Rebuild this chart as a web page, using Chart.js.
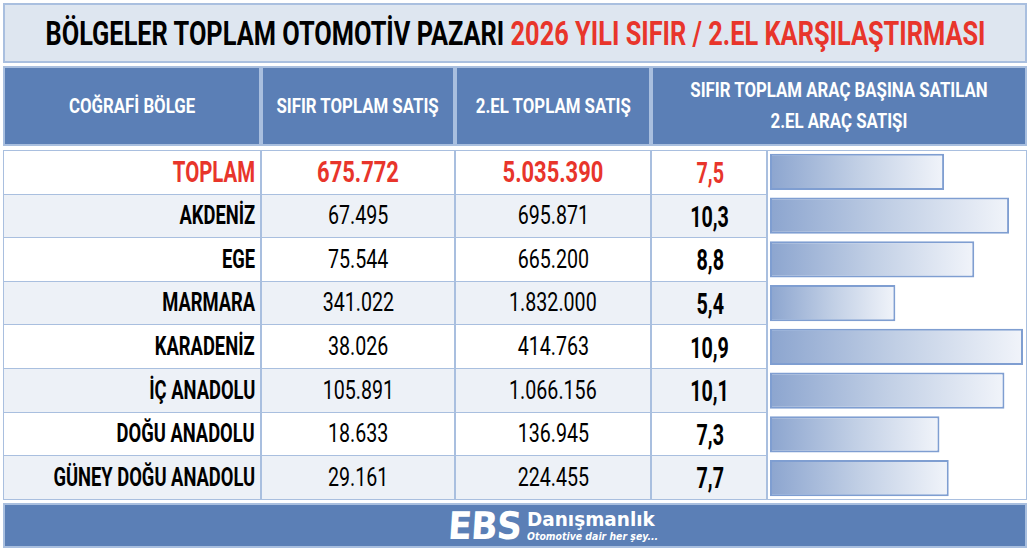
<!DOCTYPE html>
<html>
<head>
<meta charset="utf-8">
<script src="https://cdn.jsdelivr.net/npm/chart.js@4"></script>
<style>
  html,body{margin:0;padding:0;background:#fff;}
  body{width:1030px;height:553px;position:relative;overflow:hidden;
    font-family:Roboto,"Liberation Sans",sans-serif;}
  .box{position:absolute;box-sizing:border-box;display:flex;align-items:center;}
  .t{display:inline-block;white-space:nowrap;line-height:1;}
</style>
</head>
<body>
<div id="root"></div>
<div id="chartWrap" style="position:absolute;left:768px;top:150px;width:258px;height:350px;">
  <canvas id="c"></canvas>
</div>
<script>
// ---- DATA ----
const titleBlack = "BÖLGELER TOPLAM OTOMOTİV PAZARI";
const titleRed = "2026 YILI SIFIR / 2.EL KARŞILAŞTIRMASI";
const headers = ["COĞRAFİ BÖLGE", "SIFIR TOPLAM SATIŞ", "2.EL TOPLAM SATIŞ", "SIFIR TOPLAM ARAÇ BAŞINA SATILAN\n2.EL ARAÇ SATIŞI"];
const regions = ["TOPLAM", "AKDENİZ", "EGE", "MARMARA", "KARADENİZ", "İÇ ANADOLU", "DOĞU ANADOLU", "GÜNEY DOĞU ANADOLU"];
const newSales = [675772, 67495, 75544, 341022, 38026, 105891, 18633, 29161];
const usedSales = [5035390, 695871, 665200, 1832000, 414763, 1066156, 136945, 224455];
const usedPerNew = [7.5, 10.3, 8.8, 5.4, 10.9, 10.1, 7.3, 7.7];
const footerBrand = "EBS";
const footerName = "Danışmanlık";
const footerSlogan = "Otomotive dair her şey...";

// ---- LAYOUT ----
const root = document.getElementById('root');
const BORDER = '#a9bfdf', BLUE = '#5b7fb6', RED = '#e8352b', ROWALT = '#edf1f7';
const colX = [3, 261, 455, 651, 767, 1027];
const bodyTop = 150, rowH = 43.6;
function fmt(n){ return String(n).replace(/\B(?=(\d{3})+(?!\d))/g, '.'); }
function box(x, y, w, h, bg, border){
  const d = document.createElement('div');
  d.className = 'box';
  Object.assign(d.style, {left:x+'px', top:y+'px', width:w+'px', height:h+'px', background:bg||'transparent',
    border: border ? border : 'none'});
  root.appendChild(d); return d;
}
function text(parent, str, o){
  const s = document.createElement('span');
  s.className = 't';
  s.textContent = str;
  Object.assign(s.style, {fontSize:o.size+'px', fontWeight:o.bold?'700':'400', color:o.color||'#000',
    transform:'scaleX('+(o.sx||1)+')', transformOrigin:o.origin||'center', fontStyle:o.italic?'italic':'normal'});
  parent.appendChild(s); return s;
}
// title
const tb = box(3, 3, 1024, 60, '#dee6f0', '2px solid '+BORDER);
tb.style.justifyContent = 'center';
const tspan = document.createElement('span');
tspan.className='t';
tspan.style.fontSize='33px'; tspan.style.fontWeight='700';
tspan.innerHTML = '<span style="color:#000">'+titleBlack+'</span> <span style="color:'+RED+'">'+titleRed+'</span>';
tb.appendChild(tspan);
// header
for(let i=0;i<4;i++){
  const x0 = colX[i], x1 = i===3 ? colX[5] : colX[i+1];
  const h = box(x0, 66, x1-x0, 80, BLUE, '2px solid '+BORDER);
  h.style.justifyContent='center'; h.style.textAlign='center';
  const lines = headers[i].split('\n');
  const s = text(h, '', {size:20, bold:true, color:'#fff', sx:0.84});
  s.innerHTML = lines.join('<br>');
  s.style.lineHeight = '31px';
}
// body cells
for(let r=0;r<regions.length;r++){
  const y = bodyTop + r*rowH;
  const bg = r%2===1 ? ROWALT : '#fff';
  const isTotal = r===0;
  const color = isTotal ? RED : '#000';
  const vals = [regions[r], fmt(newSales[r]), fmt(usedSales[r]), usedPerNew[r].toFixed(1).replace('.', ',')];
  for(let c=0;c<4;c++){
    const b = box(colX[c], y, colX[c+1]-colX[c], rowH+1, bg, '1.5px solid '+BORDER);
    b.style.justifyContent = c===0 ? 'flex-end' : 'center';
    if(c===0) b.style.paddingRight='5px';
    if(c===3) b.style.paddingLeft='2px';
    const bold = isTotal || c===0 || c===3;
    let size, sx;
    if(c===0){ size = isTotal ? 30 : 25.5; sx = isTotal ? 0.68 : 0.72; }
    else if(c===3){ size = 29; sx = 0.68; }
    else { size = isTotal ? 30 : 25.5; sx = isTotal ? 0.73 : 0.77; }
    const s = text(b, vals[c], {size, bold, color, sx, origin: c===0 ? 'right' : 'center'});
    if(c===3) s.style.marginTop = '3px';
  }
}
// bar column cell
box(colX[4], bodyTop, colX[5]-colX[4], rowH*8+1, '#fff', '1.5px solid '+BORDER);
// footer
const fb = box(3, 503, 1024, 45, BLUE, '2px solid '+BORDER);
fb.style.justifyContent='center';
fb.innerHTML = '<div style="display:flex;align-items:center;margin-left:96px;">'+
  '<span class="t" style="font-family:\'DejaVu Sans\';font-weight:700;font-size:38px;color:#fff;transform:scaleX(0.92) skewX(-4deg);letter-spacing:-1px;">'+footerBrand+'</span>'+
  '<div style="display:flex;flex-direction:column;margin-left:3px;">'+
  '<span class="t" style="font-family:\'DejaVu Sans\';font-weight:700;font-size:19px;color:#fff;transform:scaleX(0.97);transform-origin:left;">'+footerName+'</span>'+
  '<span class="t" style="font-family:\'DejaVu Sans\';font-weight:700;font-style:italic;font-size:11px;color:#fff;margin-top:2px;transform:scaleX(0.85);transform-origin:left;">'+footerSlogan+'</span>'+
  '</div></div>';

// fit title width
const tw = tspan.getBoundingClientRect().width;
tspan.style.transform = 'scaleX('+(940/tw)+')';

// ---- CHART ----
const ctxEl = document.getElementById('c');
new Chart(ctxEl, {
  type: 'bar',
  data: {
    labels: regions,
    datasets: [{
      data: usedPerNew,
      backgroundColor: (ctx) => {
        const chart = ctx.chart;
        if(!chart.chartArea) return '#b9c9e2';
        const xs = chart.scales.x;
        const x0 = xs.getPixelForValue(0), x1 = xs.getPixelForValue(ctx.raw);
        const g = chart.ctx.createLinearGradient(x0, 0, x1, 0);
        g.addColorStop(0, '#8ca5cf');
        g.addColorStop(0.5, '#c1cfe5');
        g.addColorStop(1, '#f1f4fa');
        return g;
      },
      borderColor: '#7f9ed1',
      borderWidth: 2,
      borderSkipped: false,
      categoryPercentage: 1,
      barPercentage: 0.83
    }]
  },
  options: {
    indexAxis: 'y',
    responsive: true,
    maintainAspectRatio: false,
    animation: false,
    layout: {padding: {left: 2, right: 3, top: 0, bottom: 0}},
    plugins: {legend: {display: false}, tooltip: {enabled: false}},
    scales: {
      x: {display: false, min: 0, max: 10.9},
      y: {display: false}
    }
  }
});
</script>
</body>
</html>
